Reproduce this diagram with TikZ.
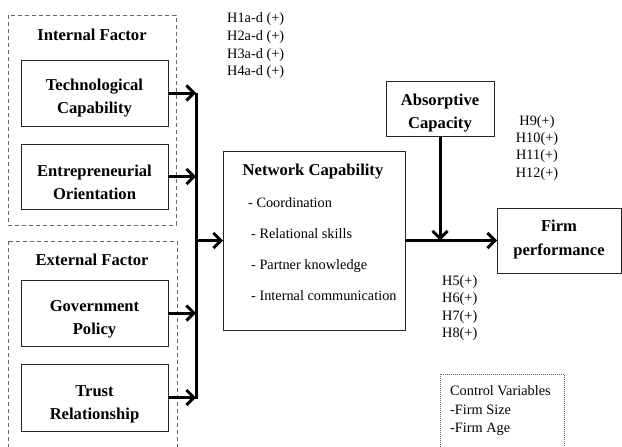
\documentclass[tikz,border=0pt]{standalone}
\usepackage{fontspec}
\setmainfont{Liberation Serif}
\usetikzlibrary{arrows.meta}
\newcommand\myTitle{\fontsize{16.6}{23}\selectfont\bfseries}
\newcommand\myText{\fontsize{14.3}{17}\selectfont}
\begin{document}
\begin{tikzpicture}[x=1pt,y=-1pt,
  box/.style={draw=black!85, line width=0.9pt, inner sep=0pt, outer sep=0pt},
  btxt/.style={inner sep=0pt, align=center, font=\myTitle},
  grp/.style={draw=black!60, line width=0.8pt, dash pattern=on 4pt off 3pt},
  ctl/.style={draw=black!60, line width=0.8pt, dash pattern=on 1pt off 1pt},
  arr/.style={line width=3pt, -{Straight Barb[length=7.5pt,width=15pt,line width=3pt]}},
  bar/.style={line width=3pt},
  lbl/.style={font=\myText, inner sep=0pt, anchor=base west},
  lblc/.style={font=\myText, inner sep=0pt, anchor=base},
  ttl/.style={font=\myTitle, inner sep=0pt, anchor=base}]
\useasboundingbox (0,0) rectangle (622,447);
\clip (0,0) rectangle (622,447);
\fill[white] (0,0) rectangle (622,447);

% group frames
\draw[grp] (8,15) rectangle (176,225);
\draw[grp] (8,241) rectangle (177,470);
\node[ttl] (intttl) at (92,40) {Internal Factor};
\node[ttl] (extttl) at (92,265) {External Factor};

% left boxes
\node[box, minimum width=147pt, minimum height=66pt] (tech) at (94.5,93) {};
\node[btxt] (techt) at (94.5,98) {Technological\\Capability};
\node[box, minimum width=147pt, minimum height=65pt] (entr) at (94.5,176.5) {};
\node[btxt] (entrt) at (94.5,182.5) {Entrepreneurial\\Orientation};
\node[box, minimum width=147pt, minimum height=66pt] (gov) at (94.5,313) {};
\node[btxt] (govt) at (94.5,319.5) {Government\\Policy};
\node[box, minimum width=147pt, minimum height=67pt] (trust) at (94.5,397.5) {};
\node[btxt] (trustt) at (94.5,404.5) {Trust\\Relationship};

% network capability
\node[box, minimum width=182pt, minimum height=179pt] (net) at (314,240.5) {};
\node[ttl] (netttl) at (313,175) {Network Capability};
\node[lbl] (n1) at (248,207) {- Coordination};
\node[lbl] (n2) at (251,238) {- Relational skills};
\node[lbl] (n3) at (251,269) {- Partner knowledge};
\node[lbl] (n4) at (251,300) {- Internal communication};

% absorptive, firm
\node[box, minimum width=108pt, minimum height=55pt] (abs) at (440,108.5) {};
\node[btxt] (abst) at (440,113.5) {Absorptive\\Capacity};
\node[box, minimum width=124pt, minimum height=65pt] (firm) at (559,240.5) {};
\node[btxt, font=\fontsize{16.6}{24}\selectfont\bfseries] (firmt) at (559,239.5) {Firm\\performance};

% bar and arrows
\coordinate (barx) at (196,0);
\draw[bar] (196,93) -- (196,399);
\draw[arr] (tech.east) -- (tech.east -| barx);
\draw[arr] (entr.east) -- (entr.east -| barx);
\draw[arr] (gov.east) -- (gov.east -| barx);
\draw[arr] (trust.east) -- (trust.east -| barx);
\draw[arr] (net.west -| barx) -- (net.west);
\draw[arr] (net.east) -- (firm.west);
\coordinate (junc) at (abs.south |- net.east);
\draw[arr] (abs.south) -- (junc);

% hypotheses
\node[lbl] (h1) at (227,23) {H1a-d (+)};
\node[lbl] (h2) at (227,40.5) {H2a-d (+)};
\node[lbl] (h3) at (227,58) {H3a-d (+)};
\node[lbl] (h4) at (227,75.5) {H4a-d (+)};
\node[lblc] (h9) at (537,125) {H9(+)};
\node[lblc] (h10) at (537,142) {H10(+)};
\node[lblc] (h11) at (537,159) {H11(+)};
\node[lblc] (h12) at (537,177) {H12(+)};
\node[lbl] (h5) at (442,285) {H5(+)};
\node[lbl] (h6) at (442,302) {H6(+)};
\node[lbl] (h7) at (442,320) {H7(+)};
\node[lbl] (h8) at (442,337) {H8(+)};

% control variables
\draw[ctl] (440,374) rectangle (564,470);
\node[lbl] (c1) at (450,395) {Control Variables};
\node[lbl] (c2) at (450,414) {-Firm Size};
\node[lbl] (c3) at (450,432) {-Firm Age};
\end{tikzpicture}
\end{document}
